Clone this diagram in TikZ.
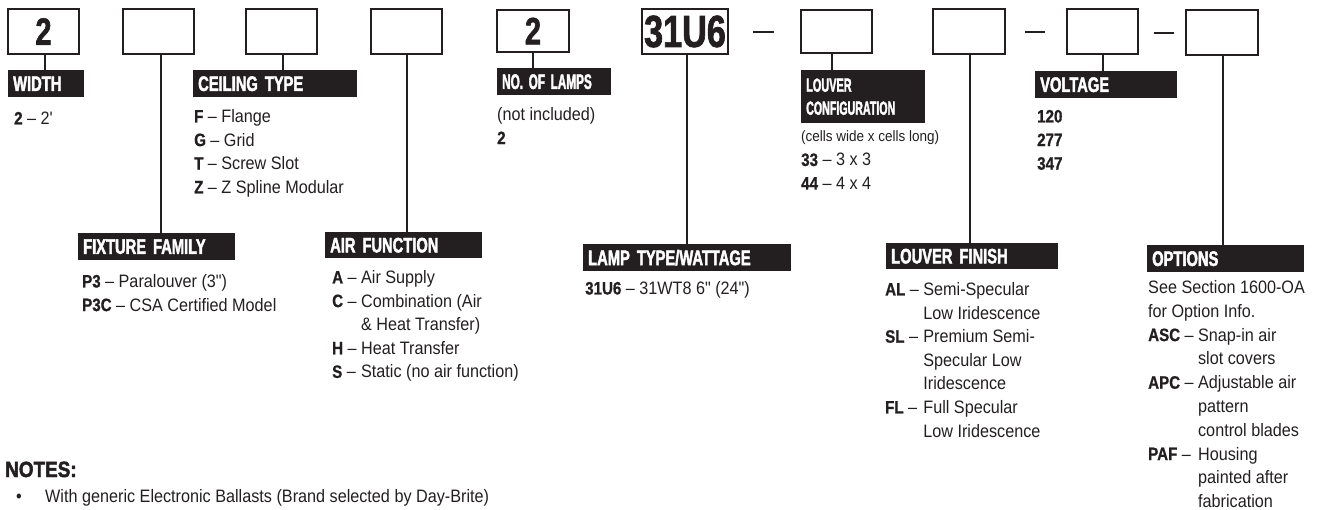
\documentclass[tikz,border=0pt]{standalone}
\usepackage{fontspec}
\setmainfont{Liberation Sans}[FakeStretch=0.9]
\newfontfamily\bodyf{Liberation Sans}[FakeStretch=0.9]
\newfontfamily\keyf{Liberation Sans}[FakeStretch=0.84, FakeBold=0.8]
\newfontfamily\headf{Liberation Sans}[FakeStretch=0.70, FakeBold=2]
\newfontfamily\bigf{Liberation Sans}[FakeStretch=0.76, FakeBold=1.5]
\newfontfamily\notef{Liberation Sans}[FakeStretch=0.86, FakeBold=2]
\definecolor{ink}{HTML}{231F20}
\newcommand\bk[1]{{\keyf\bfseries #1}}
\newcommand\kd[1]{\bk{#1} –\ \mbox{}}
\newcommand\hin{\hspace*{5pt}}
\begin{document}
\begin{tikzpicture}[x=1pt,y=-1pt,
  box/.style={draw=ink, line width=1.3pt, inner sep=0pt, text=ink,
    font=\bigf\bfseries\fontsize{38}{38}\selectfont},
  stem/.style={draw=ink, line width=1.2pt},
  dashln/.style={draw=ink, line width=2.4pt},
  hbar/.style={fill=ink, text=white, font=\headf\bfseries\fontsize{21}{23}\selectfont,
    anchor=north west, inner xsep=0pt, inner ysep=0pt, minimum height=27pt,
    minimum width=#1, text width=#1, align=left},
  txt/.style={anchor=base west, inner sep=0pt, text=ink,
    font=\bodyf\fontsize{18}{23.6}\selectfont}]
\useasboundingbox (0,0) rectangle (1320,510);

% code boxes
\node[box, minimum width=71pt, minimum height=45pt] (b1) at (43.5,31.5) {2};
\node[box, minimum width=71pt, minimum height=45pt] (b2) at (158.5,31.5) {};
\node[box, minimum width=71pt, minimum height=45pt] (b3) at (281.5,31.5) {};
\node[box, minimum width=71pt, minimum height=45pt] (b4) at (406.5,31.5) {};
\node[box, minimum width=72pt, minimum height=42pt] (b5) at (533,31) {2};
\node[box, minimum width=86pt, minimum height=45pt, font=\bigf\bfseries\fontsize{45}{45}\selectfont] (b6) at (685,31.5) {31U6};
\node[box, minimum width=71pt, minimum height=43pt] (b7) at (836.5,31.5) {};
\node[box, minimum width=72pt, minimum height=45pt] (b8) at (969,31.5) {};
\node[box, minimum width=71pt, minimum height=45pt] (b9) at (1102.5,31.5) {};
\node[box, minimum width=72pt, minimum height=45pt] (b10) at (1222,32.5) {};

% dashes
\draw[dashln] (753,32) -- (774,32);
\draw[dashln] (1025,32) -- (1045,32);
\draw[dashln] (1154,33) -- (1174,33);

% heading bars
\node[hbar=76pt] (h1) at (8,70) {\hin WIDTH};
\node[hbar=157pt] (h2) at (78,233) {\hin FIXTURE FAMILY};
\node[hbar=164pt] (h3) at (193,70) {\hin CEILING TYPE};
\node[hbar=157pt, minimum height=26pt] (h4) at (325,232) {\hin AIR FUNCTION};
\node[hbar=114pt] (h5) at (497,68) {\hin\scalebox{0.8}[1]{NO. OF LAMPS}};
\node[hbar=208pt] (h6) at (583,244) {\hin LAMP TYPE/WATTAGE};
\node[hbar=124pt, minimum height=53pt, font=\headf\bfseries\fontsize{19}{23}\selectfont] (h7) at (801,70)
  {\hin\scalebox{0.82}[1]{LOUVER}\\\hin\scalebox{0.8}[1]{CONFIGURATION}};
\node[hbar=172pt, minimum height=26pt] (h8) at (886,243) {\hin LOUVER FINISH};
\node[hbar=142pt] (h9) at (1035,71) {\hin VOLTAGE};
\node[hbar=157pt] (h10) at (1147,245) {\hin OPTIONS};

% stems
\coordinate (s1) at ([xshift=1.5pt]b1.south);
\coordinate (s2) at ([xshift=2.5pt]b2.south);
\coordinate (s3) at ([xshift=1.5pt]b3.south);
\coordinate (s4) at ([xshift=0.5pt]b4.south);
\coordinate (s5) at (b5.south);
\coordinate (s6) at ([xshift=2pt]b6.south);
\coordinate (s7) at ([xshift=-4.5pt]b7.south);
\coordinate (s8) at ([xshift=1pt]b8.south);
\coordinate (s9) at ([xshift=0.5pt]b9.south);
\coordinate (s10) at ([xshift=1pt]b10.south);
\draw[stem] (s1) -- (s1 |- h1.north);
\draw[stem] (s2) -- (s2 |- h2.north);
\draw[stem] (s3) -- (s3 |- h3.north);
\draw[stem] (s4) -- (s4 |- h4.north);
\draw[stem] (s5) -- (s5 |- h5.north);
\draw[stem] (s6) -- (s6 |- h6.north);
\draw[stem] (s7) -- (s7 |- h7.north);
\draw[stem] (s8) -- (s8 |- h8.north);
\draw[stem] (s9) -- (s9 |- h9.north);
\draw[stem] (s10) -- (s10 |- h10.north);

% texts
\node[txt] (t1) at (14,124.5) {\bk{2} – 2'};
\node[txt] (t3) at (194,122.5) {\begin{tabular}[t]{@{}l@{}}
  \bk{F} – Flange\\ \bk{G} – Grid\\ \bk{T} – Screw Slot\\ \bk{Z} – Z Spline Modular\end{tabular}};
\node[txt] (t5) at (497,120.5) {\begin{tabular}[t]{@{}l@{}}
  (not included)\\ \bk{2}\end{tabular}};
\node[txt, font=\bodyf\fontsize{15}{17}\selectfont] (t7a) at (801,142) {(cells wide x cells long)};
\node[txt] (t7) at (801,166) {\begin{tabular}[t]{@{}l@{}}
  \bk{33} – 3 x 3\\ \bk{44} – 4 x 4\end{tabular}};
\node[txt] (t9) at (1037,122.5) {\begin{tabular}[t]{@{}l@{}}
  \bk{120}\\ \bk{277}\\ \bk{347}\end{tabular}};
\node[txt] (t2) at (82,287.5) {\begin{tabular}[t]{@{}l@{}}
  \bk{P3} – Paralouver (3")\\ \bk{P3C} – CSA Certified Model\end{tabular}};
\node[txt] (t4) at (332,283.5) {\begin{tabular}[t]{@{}l@{}l@{}}
  \kd{A} & Air Supply\\ \kd{C} & Combination (Air\\ & \& Heat Transfer)\\
  \kd{H} & Heat Transfer\\ \kd{S} & Static (no air function)\end{tabular}};
\node[txt] (t6) at (585,294.5) {\bk{31U6} – 31WT8 6" (24")};
\node[txt] (t8) at (885,295.5) {\begin{tabular}[t]{@{}l@{}l@{}}
  \kd{AL} & Semi-Specular\\ & Low Iridescence\\
  \kd{SL} & Premium Semi-\\ & Specular Low\\ & Iridescence\\
  \kd{FL} & Full Specular\\ & Low Iridescence\end{tabular}};
\node[txt, font=\bodyf\fontsize{18}{23.8}\selectfont] (t10) at (1148,293.5) {\begin{tabular}[t]{@{}l@{}l@{}}
  \multicolumn{2}{@{}l@{}}{See Section 1600-OA}\\
  \multicolumn{2}{@{}l@{}}{for Option Info.}\\
  \kd{ASC} & Snap-in air\\ & slot covers\\
  \kd{APC} & Adjustable air\\ & pattern\\ & control blades\\
  \kd{PAF} & Housing\\ & painted after\\ & fabrication\end{tabular}};

% notes
\node[anchor=base west, inner sep=0pt, text=ink, font=\notef\bfseries\fontsize{22}{22}\selectfont] (notes) at (5,477) {NOTES:};
\node[txt] (bul) at (16,502.5) {•};
\node[txt] (note1) at (45,502.5) {With generic Electronic Ballasts (Brand selected by Day-Brite)};
\end{tikzpicture}
\end{document}
